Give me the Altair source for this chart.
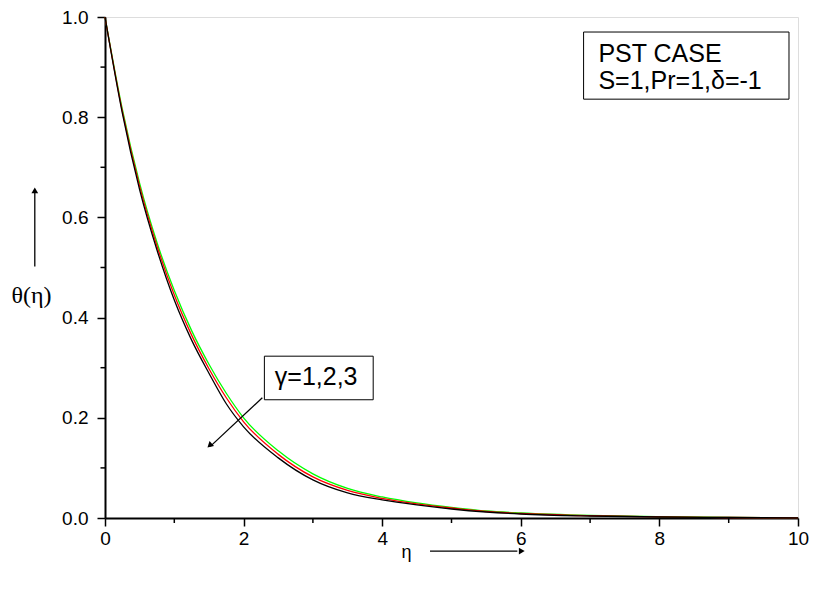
import altair as alt
import pandas as pd

# ---- data ----
eta = [0, 0.25, 0.5, 0.75, 1.0, 1.25, 1.5, 1.75, 2.0, 2.5, 3.0, 3.5, 4.0, 4.5, 5.0, 5.5, 6.0, 7.0, 8.0, 9.0, 10.0]
theta_gamma1 = [1.0, 0.816, 0.668, 0.550, 0.454, 0.374, 0.307, 0.249, 0.200, 0.134, 0.088, 0.059, 0.042, 0.030, 0.021, 0.014, 0.010, 0.005, 0.0025, 0.0012, 0.0]
theta_gamma2 = [1.0, 0.812, 0.662, 0.543, 0.445, 0.365, 0.298, 0.240, 0.192, 0.127, 0.082, 0.055, 0.039, 0.028, 0.020, 0.013, 0.009, 0.0045, 0.0022, 0.001, 0.0]
theta_gamma3 = [1.0, 0.808, 0.655, 0.535, 0.435, 0.355, 0.289, 0.228, 0.182, 0.120, 0.076, 0.050, 0.036, 0.026, 0.018, 0.012, 0.008, 0.004, 0.002, 0.001, 0.0]
series_names = ["γ=1", "γ=2", "γ=3"]
series_colors = ["#00ff00", "#ff0000", "#000000"]

x_major_ticks = [0, 2, 4, 6, 8, 10]
x_minor_ticks = [1, 3, 5, 7, 9]
y_major_ticks = [0.0, 0.2, 0.4, 0.6, 0.8, 1.0]
y_minor_ticks = [0.1, 0.3, 0.5, 0.7, 0.9]

rows = []
for name, vals in zip(series_names, [theta_gamma1, theta_gamma2, theta_gamma3]):
    for e, t in zip(eta, vals):
        rows.append({"eta": e, "theta": t, "gamma": name})
df = pd.DataFrame(rows)

xs = alt.Scale(domain=[0, 10], nice=False, zero=False)
ys = alt.Scale(domain=[0, 1], nice=False, zero=False)

FONT = "Liberation Sans"

x_axis = alt.Axis(
    values=x_major_ticks, format="d", title="η", titleFont=FONT, titleFontSize=18, titleFontWeight="normal",
    titleX=301, titleY=34, titleBaseline="middle", titleAlign="center", titleColor="black",
    labelFont=FONT, labelFontSize=19, labelColor="black", labelPadding=3, labelFlush=False,
    tickSize=8, tickColor="black", tickWidth=1.5, domainColor="black", domainWidth=2, grid=False,
)
y_axis = alt.Axis(
    values=y_major_ticks, format=".1f", title="θ(η)", titleFont="Liberation Serif", titleFontSize=24,
    titleFontWeight="normal", titleColor="black",
    titleAngle=0, titleX=-74, titleY=278, titleBaseline="middle", titleAlign="center",
    labelFont=FONT, labelFontSize=19, labelColor="black", labelPadding=9, labelFlush=False,
    tickSize=8, tickColor="black", tickWidth=1.5, domainColor="black", domainWidth=2, grid=False,
)

lines = alt.Chart(df).mark_line(strokeWidth=1.3, interpolate="monotone").encode(
    x=alt.X("eta:Q", scale=xs, axis=x_axis),
    y=alt.Y("theta:Q", scale=ys, axis=y_axis),
    color=alt.Color("gamma:N", scale=alt.Scale(domain=series_names, range=series_colors), legend=None),
    order=alt.Order("eta:Q"),
)

# ---- minor ticks (outside the plot, through the scales) ----
minor_df = pd.DataFrame(
    [{"eta": v, "eta2": v, "theta": 0.0, "theta2": -0.010} for v in x_minor_ticks]
    + [{"eta": 0.0, "eta2": -0.065, "theta": v, "theta2": v} for v in y_minor_ticks]
)
minor = alt.Chart(minor_df).mark_rule(color="black", strokeWidth=1.5).encode(
    x=alt.X("eta:Q", scale=xs), x2="eta2:Q",
    y=alt.Y("theta:Q", scale=ys), y2="theta2:Q",
)

# ---- annotations (placed in data coordinates) ----
box_df = pd.DataFrame([
    {"eta": 2.30, "eta2": 3.87, "theta": 0.323, "theta2": 0.236},
    {"eta": 6.906, "eta2": 9.87, "theta": 0.970, "theta2": 0.836},
])
boxes = alt.Chart(box_df).mark_rect(fill="white", stroke="black", strokeWidth=1).encode(
    x=alt.X("eta:Q", scale=xs), x2="eta2:Q",
    y=alt.Y("theta:Q", scale=ys), y2="theta2:Q",
)

txt_df = pd.DataFrame([
    {"eta": 2.45, "theta": 0.281, "label": "γ=1,2,3"},
    {"eta": 7.12, "theta": 0.926, "label": "PST CASE"},
    {"eta": 7.12, "theta": 0.873, "label": "S=1,Pr=1,δ=-1"},
])
texts = alt.Chart(txt_df).mark_text(font=FONT, fontSize=25, align="left", baseline="middle", color="black").encode(
    x=alt.X("eta:Q", scale=xs), y=alt.Y("theta:Q", scale=ys), text="label:N",
)

arrow_df = pd.DataFrame([
    {"eta": 2.27, "theta": 0.240, "eta2": 1.52, "theta2": 0.143},
    {"eta": -1.013, "theta": 0.502, "eta2": -1.013, "theta2": 0.655},
    {"eta": 4.69, "theta": -0.066, "eta2": 5.95, "theta2": -0.066},
])
arrow_lines = alt.Chart(arrow_df).mark_rule(color="black", strokeWidth=1.3).encode(
    x=alt.X("eta:Q", scale=xs), x2="eta2:Q",
    y=alt.Y("theta:Q", scale=ys), y2="theta2:Q",
)
head_df = pd.DataFrame([
    {"eta": 1.52, "theta": 0.146, "ang": 228},
    {"eta": -1.013, "theta": 0.652, "ang": 0},
    {"eta": 6.00, "theta": -0.066, "ang": 90},
])
heads = alt.Chart(head_df).mark_point(shape="triangle", filled=True, color="black", size=45, opacity=1).encode(
    x=alt.X("eta:Q", scale=xs), y=alt.Y("theta:Q", scale=ys),
    angle=alt.Angle("ang:Q", scale=None),
)

chart = alt.layer(lines, minor, boxes, texts, arrow_lines, heads).properties(
    width=693, height=501,
    autosize=alt.AutoSizeParams(type="none"),
    padding={"left": 97, "top": 9, "right": 11, "bottom": 60},
).configure_view(stroke="black", strokeWidth=2).configure(background="white")

chart.save("out.html", embed_options={"renderer": "svg", "actions": False})
